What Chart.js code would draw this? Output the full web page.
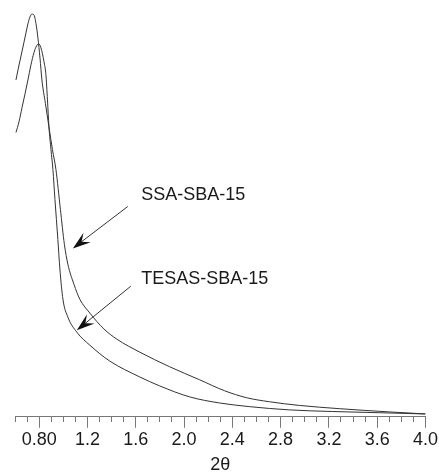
<!DOCTYPE html>
<html>
<head>
<meta charset="utf-8">
<script src="https://cdn.jsdelivr.net/npm/chart.js@4.4.1/dist/chart.umd.min.js"></script>
<style>
  html, body { margin: 0; padding: 0; background: #fff; }
  #wrap { width: 439px; height: 476px; }
</style>
</head>
<body>
<div id="wrap"><canvas id="xrd"></canvas></div>
<script>
// 2-theta values and intensities (a.u.)
const ssaTheta = [0.608, 0.625, 0.641, 0.666, 0.691, 0.707, 0.724, 0.740, 0.757, 0.774, 0.790, 0.807, 0.823, 0.852, 0.881, 0.910, 0.939, 0.976, 1.009, 1.038, 1.088, 1.137, 1.220, 1.336, 1.443, 1.633, 1.881, 2.129, 2.336, 2.517, 2.707, 2.955, 3.286, 3.699, 4.0];
const ssaIntensity = [82.8, 85.3, 87.5, 90.9, 94.4, 96.6, 98.3, 99.0, 98.8, 96.6, 93.1, 88.2, 82.8, 77.0, 71.3, 65.7, 60.8, 51.0, 42.4, 37.5, 32.6, 28.9, 25.5, 21.6, 19.1, 15.9, 12.3, 9.1, 6.4, 4.7, 3.7, 2.8, 2.0, 1.2, 0.7];

const tesasTheta = [0.608, 0.633, 0.658, 0.683, 0.707, 0.732, 0.757, 0.774, 0.795, 0.815, 0.840, 0.856, 0.869, 0.881, 0.898, 0.914, 0.931, 0.955, 0.972, 0.997, 1.038, 1.112, 1.220, 1.385, 1.633, 1.798, 2.046, 2.294, 2.542, 2.873, 3.228, 3.617, 4.0];
const tesasIntensity = [69.9, 72.5, 76.0, 79.4, 82.8, 86.5, 89.5, 90.9, 91.7, 90.7, 87.3, 84.1, 77.9, 71.3, 65.7, 60.8, 53.4, 43.6, 36.3, 28.9, 24.5, 20.8, 17.6, 13.7, 9.8, 7.6, 4.9, 3.4, 2.5, 1.7, 1.3, 1.0, 0.7];

const xMin = 0.6;
const xMax = 4.0;
const minorStep = 0.1;
const majorStep = 0.4;
const firstMajor = 0.8;

// label text, where it starts, and the arrow (from -> tip), in data coordinates
const labels = [
  { text: "SSA-SBA-15", x: 1.646, y: 54.5, from: [1.534, 51.7], tip: [1.079, 41.4] },
  { text: "TESAS-SBA-15", x: 1.646, y: 33.8, from: [1.559, 32.1], tip: [1.112, 21.3] }
];

const FONT = "'Liberation Sans', Arial, Helvetica, sans-serif";

function toPoints(xs, ys) {
  return xs.map((x, i) => ({ x: x, y: ys[i] }));
}

function isMajor(v) {
  const k = (v - firstMajor) / majorStep;
  return v >= firstMajor - 1e-6 && Math.abs(k - Math.round(k)) < 1e-6;
}

const annotate = {
  id: "annotate",
  afterDatasetsDraw(chart) {
    const { ctx, scales } = chart;
    const sx = scales.x, sy = scales.y;
    ctx.save();
    labels.forEach((l) => {
      const x0 = sx.getPixelForValue(l.from[0]), y0 = sy.getPixelForValue(l.from[1]);
      const x1 = sx.getPixelForValue(l.tip[0]), y1 = sy.getPixelForValue(l.tip[1]);
      const ang = Math.atan2(y1 - y0, x1 - x0);
      const len = 18, half = 6, notch = 11;
      ctx.strokeStyle = "#333";
      ctx.lineWidth = 1;
      ctx.beginPath();
      ctx.moveTo(x0, y0);
      ctx.lineTo(x1 - Math.cos(ang) * notch, y1 - Math.sin(ang) * notch);
      ctx.stroke();
      // notched arrow head
      const bx = x1 - Math.cos(ang) * len, by = y1 - Math.sin(ang) * len;
      const nx = -Math.sin(ang), ny = Math.cos(ang);
      ctx.fillStyle = "#111";
      ctx.beginPath();
      ctx.moveTo(x1, y1);
      ctx.lineTo(bx + nx * half, by + ny * half);
      ctx.lineTo(x1 - Math.cos(ang) * notch, y1 - Math.sin(ang) * notch);
      ctx.lineTo(bx - nx * half, by - ny * half);
      ctx.closePath();
      ctx.fill();

      ctx.fillStyle = "#1a1a1a";
      ctx.font = "18px " + FONT;
      ctx.textAlign = "left";
      ctx.textBaseline = "middle";
      ctx.fillText(l.text, sx.getPixelForValue(l.x), sy.getPixelForValue(l.y));
    });
    ctx.restore();
  }
};

new Chart(document.getElementById("xrd").getContext("2d"), {
  type: "line",
  data: {
    datasets: [
      {
        label: "SSA-SBA-15",
        data: toPoints(ssaTheta, ssaIntensity),
        borderColor: "#333",
        borderWidth: 1,
        pointRadius: 0,
        cubicInterpolationMode: "monotone",
        fill: false
      },
      {
        label: "TESAS-SBA-15",
        data: toPoints(tesasTheta, tesasIntensity),
        borderColor: "#333",
        borderWidth: 1,
        pointRadius: 0,
        cubicInterpolationMode: "monotone",
        fill: false
      }
    ]
  },
  options: {
    responsive: true,
    maintainAspectRatio: false,
    animation: false,
    layout: { padding: { left: 15, top: 10, right: 0, bottom: 0 } },
    plugins: {
      legend: { display: false },
      tooltip: { enabled: false }
    },
    scales: {
      x: {
        type: "linear",
        min: xMin,
        max: xMax,
        border: { display: true, color: "#777", width: 1 },
        grid: {
          drawOnChartArea: false,
          drawTicks: true,
          tickLength: 11,
          tickColor: "#777",
          tickWidth: 1,
          tickBorderDash: (c) => (c.tick && isMajor(c.tick.value) ? [] : [5, 50])
        },
        ticks: {
          stepSize: minorStep,
          autoSkip: false,
          maxRotation: 0,
          padding: 1,
          color: "#1a1a1a",
          font: { family: FONT, size: 18 },
          callback: (v) => {
            if (!isMajor(v)) return "";
            return Math.abs(v - firstMajor) < 1e-6 ? "0.80" : v.toFixed(1);
          }
        },
        title: {
          display: true,
          text: "2θ",
          color: "#1a1a1a",
          font: { family: FONT, size: 18 },
          padding: { top: 3, bottom: 0 }
        }
      },
      y: {
        display: false,
        min: 0,
        max: 100
      }
    }
  },
  plugins: [annotate]
});
</script>
</body>
</html>
